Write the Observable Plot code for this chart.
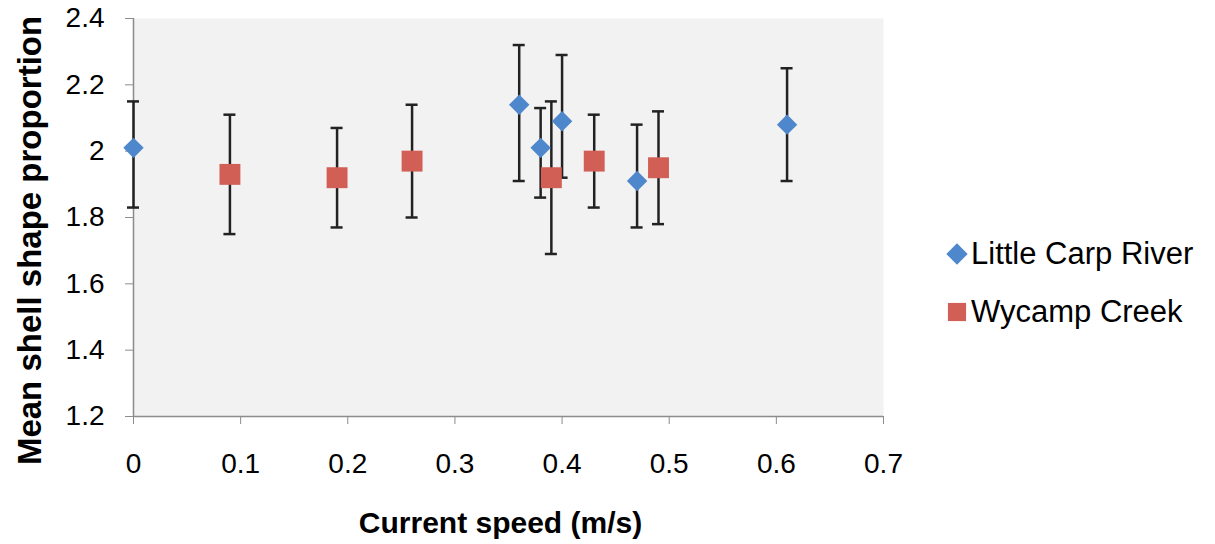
<!DOCTYPE html>
<html>
<head>
<meta charset="utf-8">
<script src="https://cdn.jsdelivr.net/npm/d3@7"></script>
<script src="https://cdn.jsdelivr.net/npm/@observablehq/plot@0.6"></script>
<style>
  html, body { margin: 0; padding: 0; background: #fff; }
  #wrap { position: relative; width: 1215px; height: 544px; font-family: "Liberation Sans", Arial, sans-serif; }
  #legend { position: absolute; left: 945px; top: 236px; font-size: 31px; color: #000; }
  .row { display: flex; align-items: center; height: 36px; margin-bottom: 22px; white-space: nowrap; }
  .sw { display: inline-block; width: 24px; height: 24px; margin-right: 2px; position: relative; }
  .sw svg { position: absolute; left: 0; top: 0; }
</style>
</head>
<body>
<div id="wrap"></div>
<script>
const series = ["Little Carp River", "Wycamp Creek"];
const colors = ["#4f87cc", "#d25f56"];
const xLabel = "Current speed (m/s)";
const yLabel = "Mean shell shape proportion";

const lcSpeed = [0, 0.36, 0.38, 0.40, 0.47, 0.61];
const lcMean  = [2.01, 2.14, 2.01, 2.09, 1.91, 2.08];
const lcHigh  = [2.15, 2.32, 2.13, 2.29, 2.08, 2.25];
const lcLow   = [1.83, 1.91, 1.86, 1.92, 1.77, 1.91];

const wcSpeed = [0.09, 0.19, 0.26, 0.39, 0.43, 0.49];
const wcMean  = [1.93, 1.92, 1.97, 1.92, 1.97, 1.95];
const wcHigh  = [2.11, 2.07, 2.14, 2.15, 2.11, 2.12];
const wcLow   = [1.75, 1.77, 1.80, 1.69, 1.83, 1.78];

const xTicks = [0, 0.1, 0.2, 0.3, 0.4, 0.5, 0.6, 0.7];
const yTicks = [1.2, 1.4, 1.6, 1.8, 2.0, 2.2, 2.4];

const lc = lcSpeed.map((x, i) => ({x, y: lcMean[i], hi: lcHigh[i], lo: lcLow[i]}));
const wc = wcSpeed.map((x, i) => ({x, y: wcMean[i], hi: wcHigh[i], lo: wcLow[i]}));
const rows = [...lc, ...wc];
const caps = rows.flatMap(d => [{x: d.x, y: d.hi}, {x: d.x, y: d.lo}]);

const plot = Plot.plot({
  width: 1215,
  height: 544,
  marginLeft: 133,
  marginRight: 332,
  marginTop: 18,
  marginBottom: 128,
  style: {fontFamily: "'Liberation Sans', Arial, sans-serif", fontSize: "28px", color: "#000", background: "transparent"},
  x: {domain: [0, 0.7]},
  y: {domain: [1.2, 2.4]},
  marks: [
    Plot.frame({fill: "#f2f2f2", stroke: null}),
    Plot.ruleX([0], {stroke: "#8c8c8c", strokeWidth: 1.5}),
    Plot.ruleY([1.2], {stroke: "#8c8c8c", strokeWidth: 1.5}),
    Plot.axisX({ticks: xTicks, tickFormat: d => String(+d.toFixed(1)), tickSize: 8, tickPadding: 29, stroke: "#8c8c8c",
      label: null, fontSize: 28}),
    Plot.axisY({ticks: yTicks, tickFormat: d => String(+d.toFixed(1)), tickSize: 8, tickPadding: 21, stroke: "#8c8c8c",
      label: null, fontSize: 28}),
    Plot.text([xLabel], {frameAnchor: "bottom", textAnchor: "middle", lineAnchor: "middle", dy: 107, dx: -8,
      fontWeight: "bold", fontSize: 30, fill: "#000"}),
    Plot.text([yLabel], {frameAnchor: "left", textAnchor: "middle", lineAnchor: "middle", rotate: -90, dx: -103, dy: 23,
      fontWeight: "bold", fontSize: 33, fill: "#000"}),
    Plot.ruleX(rows, {x: "x", y1: "lo", y2: "hi", stroke: "#222", strokeWidth: 2.5}),
    Plot.ruleY(caps, {x1: "x", x2: "x", y: "y", insetLeft: -6, insetRight: -6, stroke: "#222", strokeWidth: 2.5}),
    Plot.dot(lc, {x: "x", y: "y", r: 9.2, symbol: "diamond2", fill: colors[0], stroke: null}),
    Plot.dot(wc, {x: "x", y: "y", r: 11.8, symbol: "square", fill: colors[1], stroke: null})
  ]
});
document.getElementById("wrap").appendChild(plot);

// legend (HTML, drawn beside the plot)
const legend = document.createElement("div");
legend.id = "legend";
series.forEach((s, i) => {
  const row = document.createElement("div");
  row.className = "row";
  const sw = document.createElement("span");
  sw.className = "sw";
  const svg = d3.create("svg").attr("width", 24).attr("height", 24);
  const sym = i === 0 ? d3.symbolDiamond2 : d3.symbolSquare;
  const size = i === 0 ? 290 : 330;
  svg.append("path").attr("transform", "translate(12,12)").attr("d", d3.symbol(sym, size)()).attr("fill", colors[i]);
  sw.appendChild(svg.node());
  row.appendChild(sw);
  const t = document.createElement("span");
  t.textContent = s;
  row.appendChild(t);
  legend.appendChild(row);
});
document.getElementById("wrap").appendChild(legend);
</script>
</body>
</html>
